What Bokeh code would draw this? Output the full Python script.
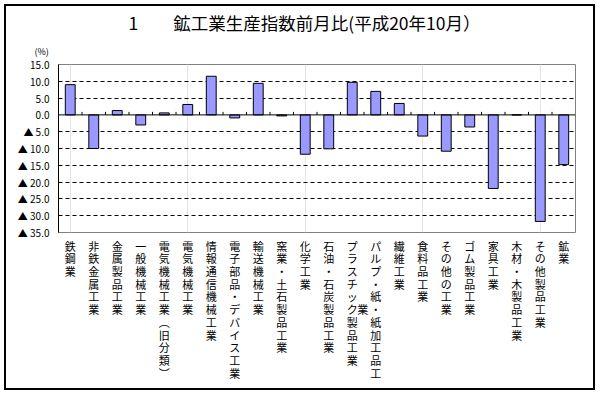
from bokeh.plotting import figure
from bokeh.models import Range1d, FixedTicker, LinearAxis, Span, Title
from bokeh.embed import file_html
from bokeh.resources import INLINE

categories = ["鉄鋼業", "非鉄金属工業", "金属製品工業", "一般機械工業", "電気機械工業(旧分類)",
              "電気機械工業", "情報通信機械工業", "電子部品・デバイス工業", "輸送機械工業",
              "窯業・土石製品工業", "化学工業", "石油・石炭製品工業", "プラスチック製品工業",
              "パルプ・紙・紙加工品工業", "繊維工業", "食料品工業", "その他の工業", "ゴム製品工業",
              "家具工業", "木材・木製品工業", "その他製品工業", "鉱業"]
values = [9.0, -10.0, 1.3, -3.0, 0.6, 3.1, 11.5, -0.9, 9.4, -0.3, -11.7, -10.1,
          9.7, 7.0, 3.4, -6.3, -10.8, -3.6, -21.9, 0.0, -31.7, -14.8]
y_ticks = [15, 10, 5, 0, -5, -10, -15, -20, -25, -30, -35]
y_tick_labels = ["15.0", "10.0", "5.0", "0.0", "▲ 5.0", "▲ 10.0", "▲ 15.0", "▲ 20.0",
                 "▲ 25.0", "▲ 30.0", "▲ 35.0"]
title_text = "1　　鉱工業生産指数前月比(平成20年10月）"
unit_text = "(%)"

FONT = "Noto Sans CJK JP"
MAXCH = 11
n = len(categories)
idx = list(range(n))
ymin, ymax = min(y_ticks), max(y_ticks)

p = figure(width=591, height=386, output_backend="svg", toolbar_location=None,
           x_range=Range1d(-0.5, n - 0.5), y_range=Range1d(ymin, ymax),
           x_axis_location=None,
           min_border_left=52, min_border_right=22, min_border_top=50, min_border_bottom=160)
p.styles = {"margin": "4px", "border": "2px solid black"}
p.outline_line_color = "#808080"
p.outline_line_width = 1

# titles (first added sits closest to the frame)
p.add_layout(Title(text=unit_text, align="left", offset=-24, standoff=13,
                   text_font=FONT, text_font_size="9px", text_font_style="normal",
                   text_color="black"), "above")
p.add_layout(Title(text=title_text, align="left", offset=70, standoff=3,
                   text_font=FONT, text_font_size="17.5px", text_font_style="normal",
                   text_color="black"), "above")

# y axis
ya = p.yaxis[0]
ya.ticker = FixedTicker(ticks=y_ticks)
ya.major_label_overrides = dict(zip(y_ticks, y_tick_labels))
ya.major_tick_line_color = None
ya.major_tick_out = 0
ya.major_tick_in = 0
ya.minor_tick_line_color = None
ya.axis_line_color = "black"
ya.major_label_standoff = 9
ya.major_label_text_font = FONT
ya.major_label_text_font_size = "10px"
ya.major_label_text_color = "black"

p.ygrid.ticker = FixedTicker(ticks=[t for t in y_ticks if t not in (ymin, ymax, 0)])
p.ygrid.grid_line_color = "black"
p.ygrid.grid_line_dash = "4 3"
p.ygrid.grid_line_width = 1

p.vbar(x=idx, top=values, bottom=0, width=0.42, fill_color="#9999FF",
       line_color="black", line_width=1)

# zero line with small ticks at category boundaries
bounds = [i + 0.5 for i in idx[:-1]]
tick_len = 0.9
p.segment(x0=bounds, x1=bounds, y0=[0] * len(bounds), y1=[tick_len] * len(bounds),
          line_color="black", line_width=1)
p.add_layout(Span(location=0, dimension="width", line_color="black", line_width=1))

# vertical category labels
def vert(s):
    return [c for c in s.replace("(", "︵").replace(")", "︶")]

BLANK = "\u2800"
ticks = list(idx)
labels = {}
for i, name in zip(idx, categories):
    ch = vert(name)
    labels[i] = "\n".join(ch[:MAXCH])
    extra = ch[MAXCH:]
    if extra:
        t = i - 0.55
        ticks.append(t)
        pad = (len(ch[:MAXCH]) - len(extra)) // 2
        labels[t] = "\n".join([BLANK] * pad + extra)

la = LinearAxis(ticker=FixedTicker(ticks=ticks),
                major_label_overrides=labels, axis_line_color=None,
                major_tick_line_color=None, minor_tick_line_color=None,
                major_tick_in=0, major_tick_out=0,
                major_label_standoff=5, major_label_text_font=FONT,
                major_label_text_font_size="11px", major_label_text_line_height=0.795,
                major_label_text_color="black")
p.add_layout(la, "below")

open("out.html", "w").write(file_html(p, INLINE))
